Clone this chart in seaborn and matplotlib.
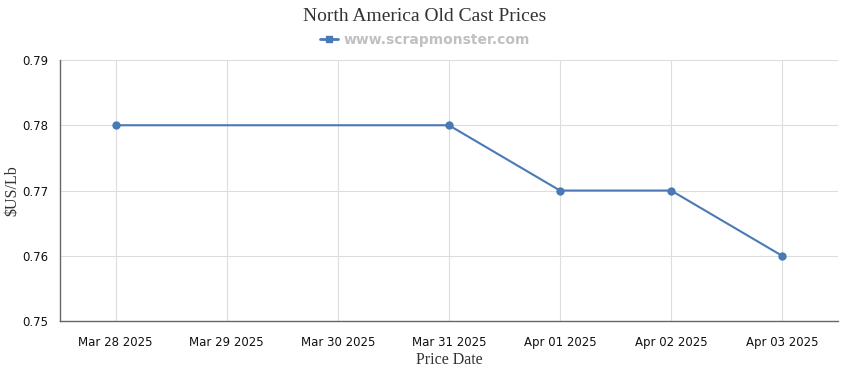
import pandas as pd
import seaborn as sns
import matplotlib.pyplot as plt
import matplotlib.dates as mdates
from matplotlib.lines import Line2D

dates = ["2025-03-28", "2025-03-31", "2025-04-01", "2025-04-02", "2025-04-03"]
prices = [0.78, 0.78, 0.77, 0.77, 0.76]
y_ticks = [0.75, 0.76, 0.77, 0.78, 0.79]

line_color = "#4a7ab5"

df = pd.DataFrame({"date": pd.to_datetime(dates), "price": prices})

sns.set_style("white")
plt.rcParams['font.family'] = ['DejaVu Sans']

fig = plt.figure(figsize=(8.5, 3.7), dpi=100)
ax = fig.add_axes([0.0706, 0.132, 0.915, 0.706])

sns.lineplot(data=df, x="date", y="price", ax=ax, color=line_color,
             marker="o", markersize=6, markeredgewidth=0, linewidth=1.5)

all_days = pd.date_range("2025-03-28", "2025-04-03", freq="D")
ax.set_xticks(all_days)
ax.xaxis.set_major_formatter(mdates.DateFormatter("%b %d %Y"))
ax.set_xlim(all_days[0] - pd.Timedelta(hours=12), all_days[-1] + pd.Timedelta(hours=12))
ax.set_ylim(0.75, 0.79)
ax.set_yticks(y_ticks)
ax.set_yticklabels([f"{v:.2f}" for v in y_ticks])

ax.grid(True, color="#dddddd", linewidth=0.8)
ax.set_axisbelow(True)
for side in ["top", "right"]:
    ax.spines[side].set_visible(False)
for side in ["left", "bottom"]:
    ax.spines[side].set_color("#666666")
    ax.spines[side].set_linewidth(1)
ax.tick_params(axis="both", length=5, color="#666666", labelsize=8.5, labelcolor="#111111")
ax.tick_params(axis="x", pad=6)

ax.set_xlabel("Price Date", family="Liberation Serif", fontsize=11.5, color="#333333", labelpad=2)
ax.set_ylabel("$US/Lb", family="Liberation Serif", fontsize=11.5, color="#333333", labelpad=1)

fig.text(0.5, 0.955, "North America Old Cast Prices", ha="center", va="center",
         family="Liberation Serif", fontsize=14, color="#333333")
handle = Line2D([], [], color=line_color, marker="s", markersize=5, linewidth=2)
fig.legend([handle], ["www.scrapmonster.com"], loc="center", bbox_to_anchor=(0.5, 0.892),
           frameon=False, handlelength=1.3, handletextpad=0.4,
           prop={"weight": "bold", "size": 10}, labelcolor="#c0c0c0")

fig.savefig("out.png", dpi=100)
